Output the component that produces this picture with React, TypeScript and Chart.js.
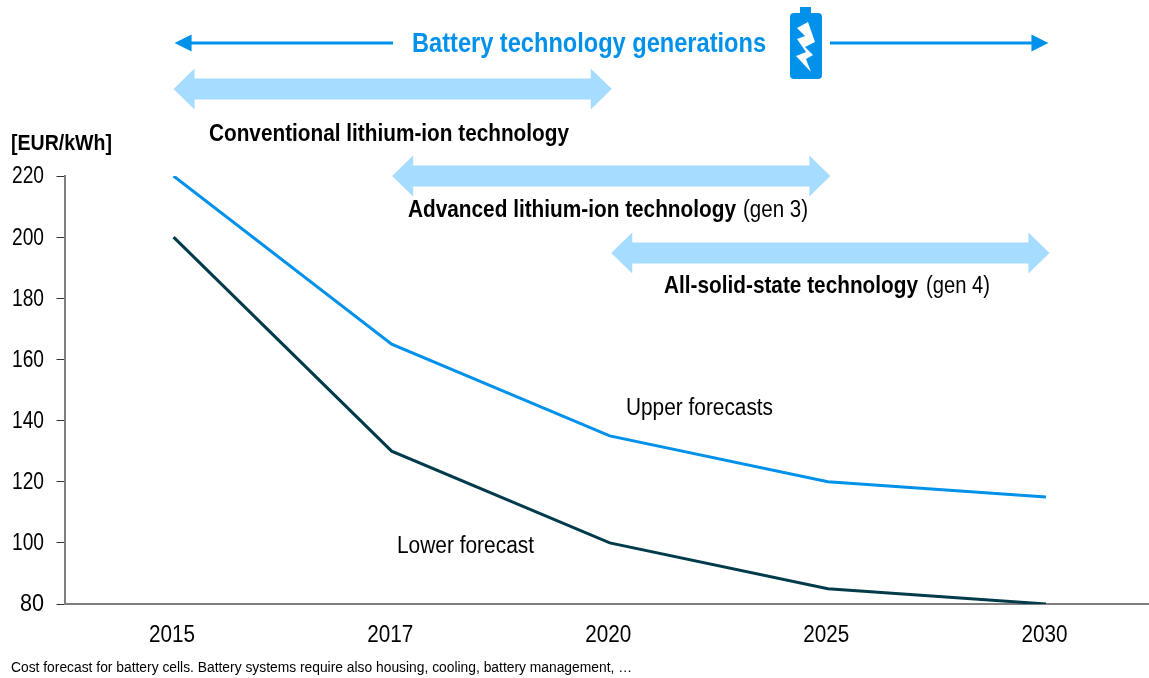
import React, { useEffect, useRef } from "react";
import { Chart, registerables } from "chart.js";

Chart.register(...registerables);

const years = ["2015", "2017", "2020", "2025", "2030"];
const upperForecasts = [220, 165, 135, 120, 115];
const lowerForecast = [200, 130, 100, 85, 80];
const BLUE = "#0091EA";
const DARK = "#003B4C";
const PALE = "#A6DCFF";
const GREY = "#7F7F7F";
const FAMILY = '"Liberation Sans", Arial, sans-serif';

function fitText(ctx: CanvasRenderingContext2D, s: string, x: number, y: number, w: number, size: number, bold: boolean, color: string) {
  ctx.save();
  ctx.font = `${bold ? "bold " : ""}${size}px ${FAMILY}`;
  ctx.fillStyle = color;
  ctx.textBaseline = "middle";
  ctx.textAlign = "left";
  const m = ctx.measureText(s).width;
  ctx.translate(x, y);
  ctx.scale(w / m, 1);
  ctx.fillText(s, 0, 0);
  ctx.restore();
}

function fatArrow(ctx: CanvasRenderingContext2D, a: number, b: number, y: number) {
  const h = 21, hw = 20.5, sw = 10.5;
  ctx.fillStyle = PALE;
  ctx.beginPath();
  ctx.moveTo(a, y);
  ctx.lineTo(a + h, y - hw);
  ctx.lineTo(a + h, y - sw);
  ctx.lineTo(b - h, y - sw);
  ctx.lineTo(b - h, y - hw);
  ctx.lineTo(b, y);
  ctx.lineTo(b - h, y + hw);
  ctx.lineTo(b - h, y + sw);
  ctx.lineTo(a + h, y + sw);
  ctx.lineTo(a + h, y + hw);
  ctx.closePath();
  ctx.fill();
}

function thinArrow(ctx: CanvasRenderingContext2D, tip: number, tail: number, y: number) {
  const dir = tail > tip ? 1 : -1;
  ctx.strokeStyle = BLUE;
  ctx.fillStyle = BLUE;
  ctx.lineWidth = 3;
  ctx.beginPath();
  ctx.moveTo(tip + dir * 10, y);
  ctx.lineTo(tail, y);
  ctx.stroke();
  ctx.beginPath();
  ctx.moveTo(tip, y);
  ctx.lineTo(tip + dir * 17, y - 8.5);
  ctx.lineTo(tip + dir * 17, y + 8.5);
  ctx.closePath();
  ctx.fill();
}

function battery(ctx: CanvasRenderingContext2D) {
  ctx.fillStyle = BLUE;
  ctx.fillRect(800, 7, 11, 8);
  ctx.beginPath();
  ctx.roundRect(790, 13, 32, 66, 4);
  ctx.fill();
  ctx.fillStyle = "#fff";
  const bolt = [[797, 28], [808, 22], [815, 42], [805, 47], [813, 55], [806, 59], [811, 72], [796, 56], [806, 52], [797, 39], [805, 36]];
  ctx.beginPath();
  bolt.forEach(([x, y], i) => (i ? ctx.lineTo(x, y) : ctx.moveTo(x, y)));
  ctx.closePath();
  ctx.fill();
}

const overlay = {
  id: "overlay",
  afterDraw(chart: any) {
    const ctx: CanvasRenderingContext2D = chart.ctx;
    const xs = chart.scales.x;
    const ys = chart.scales.y;
    const x = (i: number) => xs.getPixelForValue(i);
    ctx.save();
    thinArrow(ctx, x(0) + 1, 393, 43);
    thinArrow(ctx, x(4) + 2.5, 830, 43);
    battery(ctx);
    fatArrow(ctx, x(0), x(2) + 2, 89);
    fatArrow(ctx, x(1) + 0.5, x(3) + 2.5, 176);
    fatArrow(ctx, x(2) + 1.5, x(4) + 3.5, 253);
    fitText(ctx, "Battery technology generations", 412, 45, 354, 27, true, BLUE);
    fitText(ctx, "Conventional lithium-ion technology", 209, 135, 360, 23, true, "#000");
    fitText(ctx, "Advanced lithium-ion technology", 408, 211, 328, 23, true, "#000");
    fitText(ctx, "(gen 3)", 743, 211, 65, 23, false, "#000");
    fitText(ctx, "All-solid-state technology", 664, 287, 254, 23, true, "#000");
    fitText(ctx, "(gen 4)", 926, 287, 64, 23, false, "#000");
    fitText(ctx, "Upper forecasts", 626, 409, 147, 23, false, "#000");
    fitText(ctx, "Lower forecast", 397, 547, 137, 23, false, "#000");
    fitText(ctx, "[EUR/kWh]", 11, 144, 101, 22, true, "#000");
    fitText(ctx, "Cost forecast for battery cells. Battery systems require also housing, cooling, battery management, …", 11, 668, 621, 15.5, false, "#000");
    ys.ticks.forEach((t: any) => {
      const small = String(t.value).length < 3;
      fitText(ctx, String(t.value), small ? 20 : 12, ys.getPixelForValue(t.value) + 1, small ? 24 : 32, 23.5, false, "#000");
    });
    years.forEach((label, i) => {
      fitText(ctx, label, x(i) - 24.5, 636, 46, 23.5, false, "#000");
    });
    ctx.restore();
  },
};

export default function App() {
  const ref = useRef<HTMLCanvasElement>(null);
  useEffect(() => {
    document.body.style.margin = "0";
    const chart = new Chart(ref.current!, {
      type: "line",
      data: {
        labels: years,
        datasets: [
          { label: "Upper forecasts", data: upperForecasts, borderColor: BLUE, borderWidth: 3, pointRadius: 0, tension: 0 },
          { label: "Lower forecast", data: lowerForecast, borderColor: DARK, borderWidth: 3, pointRadius: 0, tension: 0 },
        ],
      },
      options: {
        animation: false,
        responsive: false,
        layout: { padding: { top: 176, bottom: 0, left: 0, right: 0 } },
        plugins: { legend: { display: false }, tooltip: { enabled: false }, title: { display: false } },
        scales: {
          x: {
            type: "category",
            offset: true,
            grid: { display: false, drawTicks: false },
            border: { color: GREY, width: 2 },
            ticks: { display: false },
            afterFit: (s: any) => { s.height = 74; },
          },
          y: {
            min: 80,
            max: 220,
            grid: { display: true, drawOnChartArea: false, drawTicks: true, tickLength: 8, tickColor: "#333333", tickWidth: 1 } as any,
            border: { color: GREY, width: 2 },
            ticks: { display: false, stepSize: 20 },
            afterFit: (s: any) => { s.width = 64.5; },
          },
        },
      },
      plugins: [overlay],
    } as any);
    return () => chart.destroy();
  }, []);
  return (
    <div style={{ position: "fixed", left: 0, top: 0, width: 1149, height: 678, overflow: "hidden", background: "#fff" }}>
      <canvas ref={ref} width={1155} height={678} style={{ display: "block" }} />
    </div>
  );
}
